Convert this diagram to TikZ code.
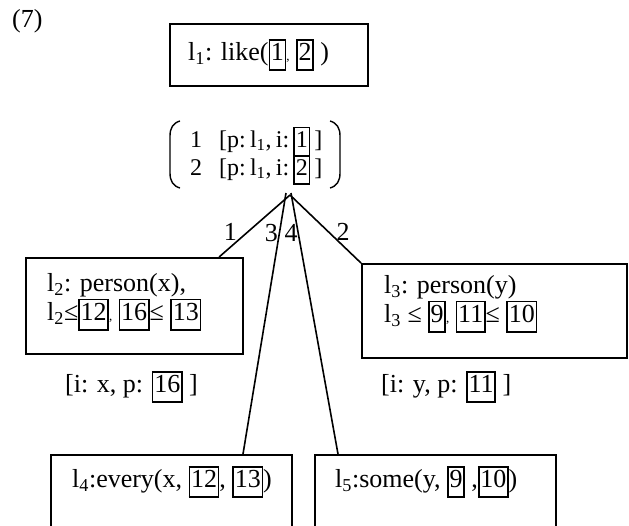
\documentclass[tikz,border=0pt]{standalone}
\usepackage{fontspec}
\setmainfont{Liberation Serif}
\usetikzlibrary{calc}
\newcommand\bx[1]{{\setlength{\fboxsep}{0.8pt}\setlength{\fboxrule}{1.6pt}\fbox{\rule[-0.3em]{0pt}{1.05em}#1}}}
\newcommand\sbs[1]{\textsubscript{#1}}
\newcommand\smcomma{{\fontsize{13}{13}\selectfont,}}
\newcommand\ms{\hspace{4.2pt}}
\begin{document}
\begin{tikzpicture}[x=1pt,y=-1pt,
  every node/.style={font=\fontsize{26}{29}\selectfont, inner sep=0pt},
  box/.style={draw, line width=1.9pt},
  conn/.style={line width=1.6pt},
  lbl/.style={font=\fontsize{26}{29}\selectfont},
  txt/.style={anchor=west, align=left},
  mrow/.style={anchor=base west, font=\fontsize{24}{28}\selectfont}]
\useasboundingbox (0,0) rectangle (629,525);
\clip (0,0) rectangle (629,525);

\node[anchor=west] (num) at (12,21) {(7)};

\node[box, minimum width=198pt, minimum height=62pt] (b1) at (269,55) {};
\node[txt] (t1) at (188,55) {l\sbs{1}: like(\bx{1}\smcomma\ \bx{2} )};

\node[mrow] (r1) at (190,147) {1\hspace{17pt}[p:\ms l\sbs{1},\ms i:\ms\bx{1}\ms]};
\node[mrow] (r2) at (190,175) {2\hspace{17pt}[p:\ms l\sbs{1},\ms i:\ms\bx{2}\ms]};
\draw[line width=1.4pt] (180,121) .. controls (173,123) and (170,128) .. (170,136) -- (170,173) .. controls (170,181) and (173,186) .. (180,188);
\draw[line width=1.4pt] (330,121) .. controls (337,123) and (340,128) .. (340,136) -- (340,173) .. controls (340,181) and (337,186) .. (330,188);

\coordinate (ap) at (290,195);
\coordinate (ap3) at (286,193);
\coordinate (ap4) at (291,193);

\node[box, minimum width=217pt, minimum height=96pt] (b2) at (134.5,306) {};
\node[txt] (t2) at (47,302) {l\sbs{2}: person(x),\\l\sbs{2}≤\bx{12}\smcomma\ \bx{16}≤ \bx{13}};

\node[box, minimum width=265pt, minimum height=94pt] (b3) at (494.5,311) {};
\node[txt] (t3) at (384,304) {l\sbs{3}: person(y)\\l\sbs{3} ≤ \bx{9}\smcomma\ \bx{11}≤ \bx{10}};

\node[txt] (a2) at (65,387) {[i: x, p: \bx{16} ]};
\node[txt] (a3) at (381,387) {[i: y, p: \bx{11} ]};

\node[box, minimum width=241pt, minimum height=100pt, anchor=north west] (b4) at (50,454) {};
\node[txt] (t4) at (72,482) {l\sbs{4}:every(x, \bx{12}, \bx{13})};
\node[box, minimum width=241pt, minimum height=100pt, anchor=north west] (b5) at (314,454) {};
\node[txt] (t5) at (335,482) {l\sbs{5}:some(y, \bx{9} ,\bx{10})};

\draw[conn] (ap) -- node[lbl, pos=0.6, xshift=-17pt] {1} ($(b2.north west)+(194,0)$);
\draw[conn] (ap) -- node[lbl, pos=0.536, xshift=15pt] {2} (b3.north west);
\draw[conn] (ap3) -- node[lbl, pos=0.153, xshift=-8pt] {3} ($(b4.north west)+(193,0)$);
\draw[conn] (ap4) -- node[lbl, pos=0.153, xshift=-7pt] {4} ($(b5.north west)+(24,0)$);
\end{tikzpicture}
\end{document}
